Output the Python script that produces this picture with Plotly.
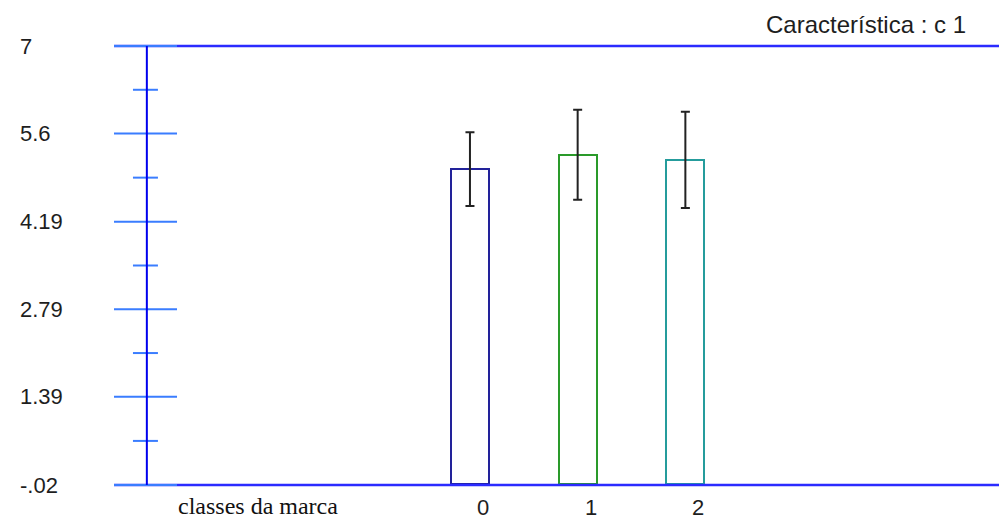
import plotly.graph_objects as go

# ---- data ----
categories = ["0", "1", "2"]
means = [5.03, 5.26, 5.18]
errors = [0.59, 0.72, 0.77]
bar_colors = ["#22229a", "#2a9a2a", "#259c9c"]
y_tick_vals = [7, 5.6, 4.19, 2.79, 1.39, -0.02]
y_tick_text = ["7", "5.6", "4.19", "2.79", "1.39", "-.02"]
minor_tick_vals = [6.3, 4.895, 3.49, 2.09, 0.685]
title_text = "Característica : c 1"
x_title = "classes da marca"

W, H = 999, 520
ML, MR, MT, MB = 114, 0, 40, 29
X_RANGE = [-3.305, 4.912]
Y_RANGE = [-0.116, 7.096]
Y_MIN, Y_MAX = -0.02, 7
AXIS_X = -3.0

xs = list(range(len(categories)))

fig = go.Figure()
fig.add_trace(go.Bar(
    x=xs, y=means, width=0.353,
    marker=dict(color="white", line=dict(color=bar_colors, width=2)),
    error_y=dict(type="data", array=errors, visible=True,
                 color="#222222", thickness=2, width=4.5),
    showlegend=False, hoverinfo="skip",
))

shapes = []
for yv in (Y_MAX, Y_MIN):
    shapes.append(dict(type="line", xref="paper", yref="y", x0=0, x1=1,
                       y0=yv, y1=yv, line=dict(color="#2b2bff", width=2.5)))
for yv in y_tick_vals:
    shapes.append(dict(type="line", xref="x", yref="y", x0=-3.305, x1=-2.72,
                       y0=yv, y1=yv, line=dict(color="#3a7dff", width=2)))
for yv in minor_tick_vals:
    shapes.append(dict(type="line", xref="x", yref="y", x0=-3.129, x1=-2.897,
                       y0=yv, y1=yv, line=dict(color="#3a7dff", width=2)))
shapes.append(dict(type="line", xref="x", yref="y", x0=AXIS_X, x1=AXIS_X,
                   y0=Y_MIN, y1=Y_MAX, line=dict(color="#0000ee", width=2)))

plot_w = W - ML - MR
plot_h = H - MT - MB


def px_x(p):
    return (p - ML) / plot_w


def px_y(p):
    return (H - MB - p) / plot_h


annotations = []
for v, t in zip(y_tick_vals, y_tick_text):
    annotations.append(dict(text=t, xref="paper", yref="y", x=px_x(18), y=v,
                            xanchor="left", yanchor="middle", showarrow=False,
                            font=dict(family="Liberation Sans, Arial", size=22, color="#1e1e1e")))
for i, c in zip(xs, categories):
    annotations.append(dict(text=c, xref="x", yref="paper", x=i + 0.12, y=px_y(508),
                            xanchor="center", yanchor="middle", showarrow=False,
                            font=dict(family="Liberation Sans, Arial", size=22, color="#1e1e1e")))
annotations.append(dict(text=x_title, xref="paper", yref="paper", x=px_x(176),
                        y=px_y(506), xanchor="left", yanchor="middle", showarrow=False,
                        font=dict(family="Liberation Serif, Times New Roman", size=24, color="#111111")))
annotations.append(dict(text=title_text, xref="paper", yref="paper", x=px_x(968),
                        y=px_y(24), xanchor="right", yanchor="middle",
                        showarrow=False,
                        font=dict(family="Liberation Sans, Arial", size=24, color="#1e1e1e")))

fig.update_layout(
    width=W, height=H,
    margin=dict(l=ML, r=MR, t=MT, b=MB, pad=0),
    paper_bgcolor="white", plot_bgcolor="white",
    xaxis=dict(range=X_RANGE, visible=False, fixedrange=True),
    yaxis=dict(range=Y_RANGE, visible=False, fixedrange=True),
    shapes=shapes, annotations=annotations,
    bargap=0,
)

fig.write_html("out.html", config={"displayModeBar": False},
               post_script="document.body.style.margin='0px';document.body.style.padding='0px';")
